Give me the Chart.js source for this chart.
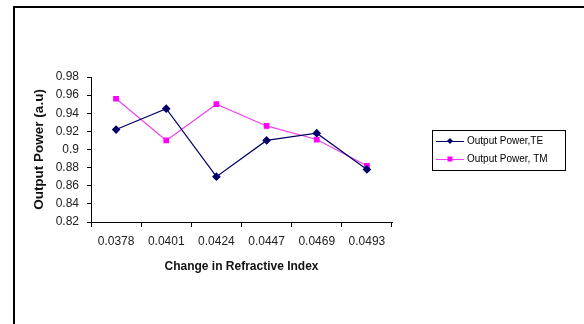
<!DOCTYPE html>
<html>
<head>
<meta charset="utf-8">
<script src="https://cdn.jsdelivr.net/npm/chart.js@4.4.0/dist/chart.umd.min.js"></script>
<style>
  html, body { margin: 0; padding: 0; background: #fff; }
  #wrap { position: relative; width: 584px; height: 324px; }
</style>
</head>
<body>
<div id="wrap"><canvas id="c" width="584" height="324"></canvas></div>
<script>
// Change in refractive index (x categories)
const categories = ['0.0378', '0.0401', '0.0424', '0.0447', '0.0469', '0.0493'];
// Output power for each polarisation
const powerTE = [0.922, 0.945, 0.870, 0.910, 0.918, 0.878];
const powerTM = [0.956, 0.910, 0.950, 0.926, 0.911, 0.882];
// Y axis range
const yMin = 0.82, yMax = 0.98, yStep = 0.02;

const FONT = 'Liberation Sans, Arial, sans-serif';

// Outer frame: thick line along the top and left edges
const framePlugin = {
  id: 'frame',
  beforeDraw(chart) {
    const ctx = chart.ctx;
    ctx.save();
    ctx.fillStyle = '#fff';
    ctx.fillRect(0, 0, chart.width, chart.height);
    ctx.strokeStyle = '#000';
    ctx.lineWidth = 2;
    ctx.beginPath();
    ctx.moveTo(14, chart.height);
    ctx.lineTo(14, 7);
    ctx.lineTo(chart.width, 7);
    ctx.stroke();
    ctx.restore();
  }
};

// Boxed legend with line + marker samples
const boxLegend = {
  id: 'boxLegend',
  afterDraw(chart) {
    const ctx = chart.ctx;
    const x0 = 432, y0 = 130, w = 133, h = 40;
    ctx.save();
    ctx.strokeStyle = '#000';
    ctx.lineWidth = 1;
    ctx.strokeRect(x0 + 0.5, y0 + 0.5, w, h);
    ctx.font = '10px ' + FONT;
    ctx.textBaseline = 'middle';
    ctx.fillStyle = '#000';
    chart.data.datasets.forEach((ds, i) => {
      const y = y0 + 11 + i * 18;
      ctx.strokeStyle = ds.borderColor;
      ctx.lineWidth = 1;
      ctx.beginPath();
      ctx.moveTo(x0 + 4, y + 0.5);
      ctx.lineTo(x0 + 32, y + 0.5);
      ctx.stroke();
      ctx.fillStyle = ds.pointBackgroundColor;
      const cx = x0 + 18;
      if (ds.pointStyle === 'rectRot') {
        ctx.beginPath();
        ctx.moveTo(cx, y - 3); ctx.lineTo(cx + 3, y); ctx.lineTo(cx, y + 3); ctx.lineTo(cx - 3, y);
        ctx.closePath(); ctx.fill();
      } else {
        ctx.fillRect(cx - 2.5, y - 2.5, 5, 5);
      }
      ctx.fillStyle = '#000';
      ctx.fillText(ds.label, x0 + 35, y);
    });
    ctx.restore();
  }
};

new Chart(document.getElementById('c'), {
  type: 'line',
  data: {
    labels: categories,
    datasets: [
      {
        label: 'Output Power,TE',
        data: powerTE,
        borderColor: '#000066',
        backgroundColor: '#000066',
        pointBackgroundColor: '#000066',
        pointBorderColor: '#000066',
        pointStyle: 'rectRot',
        pointRadius: 3.5,
        borderWidth: 1.2,
        tension: 0
      },
      {
        label: 'Output Power, TM',
        data: powerTM,
        borderColor: '#ee44ee',
        backgroundColor: '#ff00ff',
        pointBackgroundColor: '#ff00ff',
        pointBorderColor: '#ff00ff',
        pointStyle: 'rect',
        pointRadius: 3.2,
        borderWidth: 1.2,
        tension: 0
      }
    ]
  },
  options: {
    responsive: false,
    animation: false,
    events: [],
    layout: { padding: { left: 27, top: 77, right: 192, bottom: 40 } },
    plugins: { legend: { display: false }, tooltip: { enabled: false } },
    scales: {
      x: {
        type: 'category',
        offset: true,
        afterFit(s) { s.height = 62; },
        grid: { offset: true, drawOnChartArea: false, tickLength: 5, color: '#000', tickColor: '#000' },
        border: { color: '#000', width: 1 },
        ticks: { color: '#222', font: { family: FONT, size: 12 }, padding: 7, maxRotation: 0 },
        title: { display: true, text: 'Change in Refractive Index', color: '#111',
                 font: { family: FONT, size: 12, weight: 'bold' }, padding: { top: 4, bottom: 10 } }
      },
      y: {
        min: yMin,
        max: yMax,
        afterFit(s) { s.width = 64; },
        afterBuildTicks(s) {
          const t = [];
          for (let i = 0; i <= Math.round((yMax - yMin) / yStep); i++) t.push({ value: +(yMin + i * yStep).toFixed(2) });
          s.ticks = t;
        },
        grid: { drawOnChartArea: false, tickLength: 4, color: '#000', tickColor: '#000' },
        border: { color: '#000', width: 1 },
        ticks: { color: '#222', font: { family: FONT, size: 12 }, padding: 8,
                 callback: v => String(+v.toFixed(2)) },
        title: { display: true, text: 'Output Power (a.u)', color: '#111',
                 font: { family: FONT, size: 13.5, weight: 'bold' }, padding: { top: 4, bottom: 4 } }
      }
    }
  },
  plugins: [framePlugin, boxLegend]
});
</script>
</body>
</html>
